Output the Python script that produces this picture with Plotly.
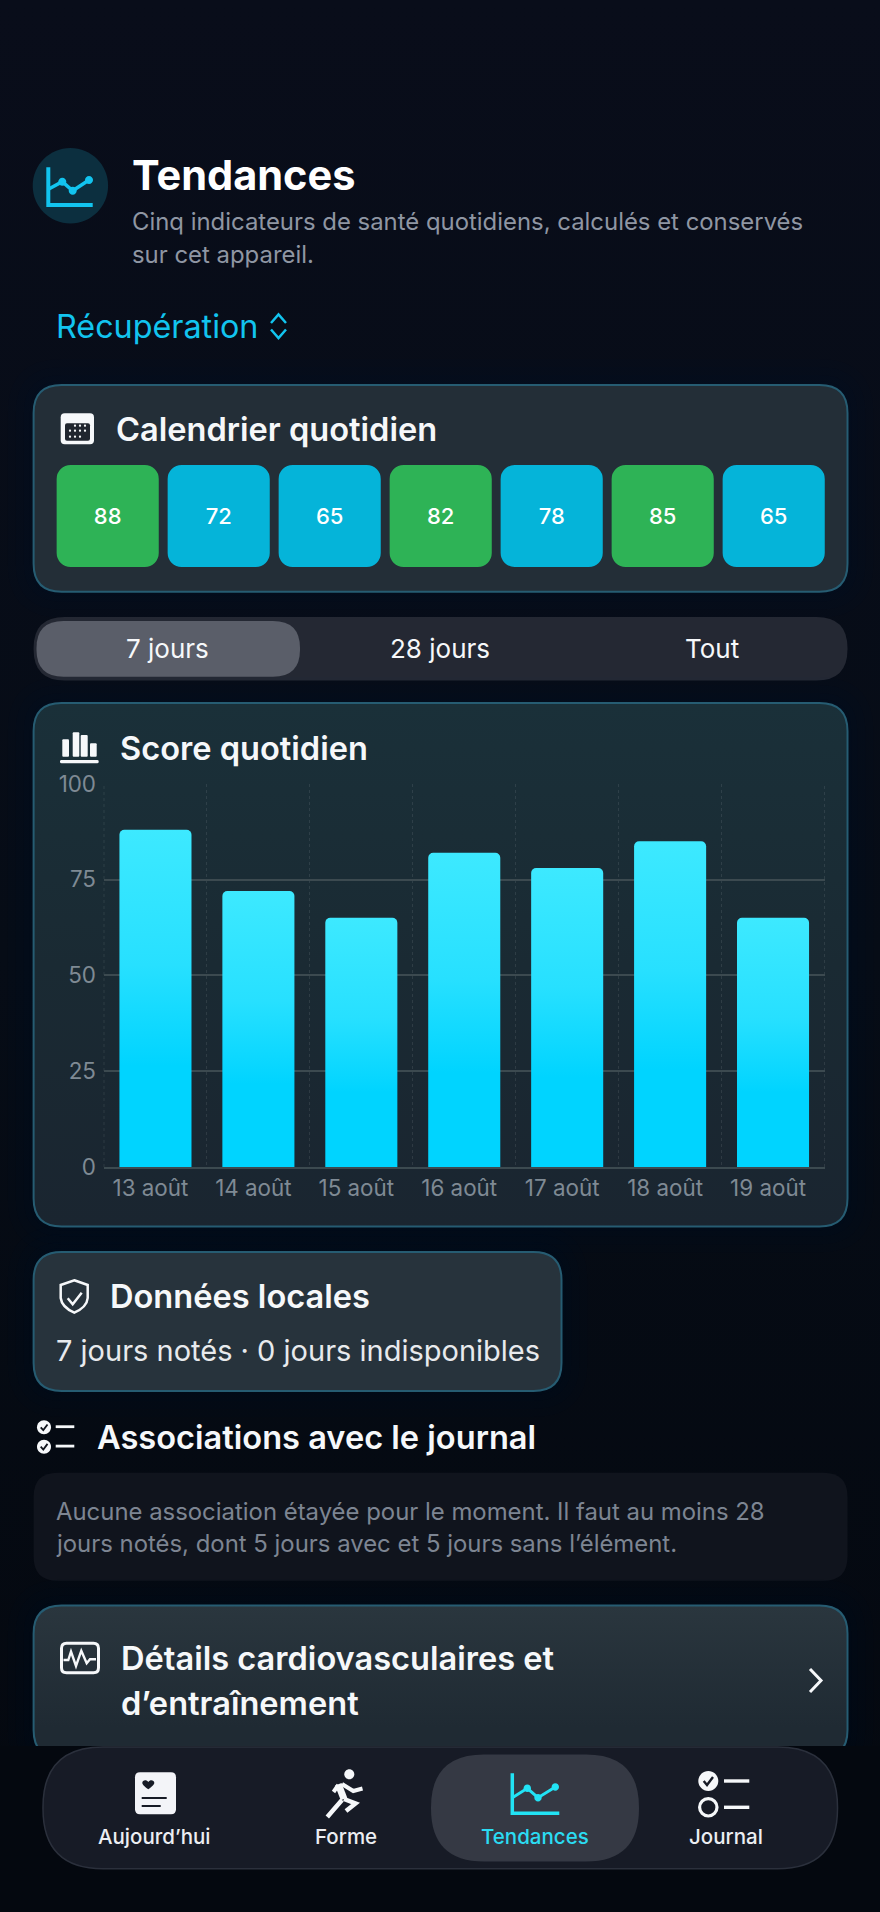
import re
import plotly.graph_objects as go

# chart data
dates = ["13 août", "14 août", "15 août", "16 août", "17 août", "18 août", "19 août"]
scores = [88, 72, 65, 82, 78, 85, 65]
y_ticks = [0, 25, 50, 75, 100]
periods = ["7 jours", "28 jours", "Tout"]
nav_labels = ["Aujourd’hui", "Forme", "Tendances", "Journal"]

W, H = 880, 1912
FONT = "Inter"
BG = "#070c17"
CYAN = "#12c4ef"
WHITE = "#f6f8fa"
CARD = "#232e37"
TITLE = 32.6


def fx(x):
    return x / W


def fy(y):
    return 1 - y / H


def to_path(d):
    """pixel path -> paper path, only absolute M L Q C Z"""
    out, is_x = [], True
    for tok in re.findall(r"[MLQCZ]|-?\d+\.?\d*", d):
        if tok.isalpha():
            out.append(tok)
            is_x = True
        else:
            out.append(f"{fx(float(tok)) if is_x else fy(float(tok)):.6f}")
            is_x = not is_x
    return " ".join(out)


def rr(x0, y0, x1, y1, r):
    return (f"M {x0+r} {y0} L {x1-r} {y0} Q {x1} {y0} {x1} {y0+r} L {x1} {y1-r} Q {x1} {y1} {x1-r} {y1} "
            f"L {x0+r} {y1} Q {x0} {y1} {x0} {y1-r} L {x0} {y0+r} Q {x0} {y0} {x0+r} {y0} Z")


def circ(cx, cy, r):
    k = r * 0.5523
    return (f"M {cx-r} {cy} C {cx-r} {cy-k} {cx-k} {cy-r} {cx} {cy-r} C {cx+k} {cy-r} {cx+r} {cy-k} {cx+r} {cy} "
            f"C {cx+r} {cy+k} {cx+k} {cy+r} {cx} {cy+r} C {cx-k} {cy+r} {cx-r} {cy+k} {cx-r} {cy} Z")


def poly(pts):
    return "M " + " L ".join(f"{x} {y}" for x, y in pts)


shapes = []
annotations = []


def fill(d, color, line=None, lw=0):
    shapes.append(dict(type="path", path=to_path(d), xref="paper", yref="paper", layer="below",
                       fillcolor=color, line=dict(color=line or "rgba(0,0,0,0)", width=lw)))


def stroke(d, color, lw):
    shapes.append(dict(type="path", path=to_path(d), xref="paper", yref="paper", layer="below",
                       fillcolor="rgba(0,0,0,0)", line=dict(color=color, width=lw)))


def text(x, y, s, size, color=WHITE, anchor="left", weight=400):
    annotations.append(dict(x=fx(x), y=fy(y), xref="paper", yref="paper", text=s, showarrow=False,
                            xanchor=anchor, yanchor="middle", borderpad=0,
                            font=dict(family=FONT, size=size, color=color, weight=weight)))


def glow(x0, y0, x1, y1, r):
    for g in (26, 18, 10, 4):
        fill(rr(x0 - g, y0 - g, x1 + g, y1 + g, r + g), "rgba(20,120,190,0.012)")


def card(x0, y0, x1, y1, r=28, color=CARD, border="#265c72"):
    glow(x0, y0, x1, y1, r)
    fill(rr(x0, y0, x1, y1, r), color, border, 2)
    return len(shapes) - 1


# page background, gradient is set at the end
fill(rr(0, 0, 880, 1912, 0), BG)
page_bg = len(shapes) - 1

# header
fill(circ(70.4, 185.7, 37.7), "#0c2f3f")
stroke(poly([(48.3, 167.3), (48.3, 205), (92.7, 205)]), CYAN, 4)
head_pts = [(48.3, 189.3), (62.3, 181.7), (72.7, 190.7), (89, 180)]
stroke(poly(head_pts), CYAN, 3.5)
for px_, py_ in head_pts[1:]:
    fill(circ(px_, py_, 4), CYAN)
text(131, 175, "Tendances", 41.5, "#ffffff", weight=700)
text(131, 221.7, "Cinq indicateurs de santé quotidiens, calculés et conservés", 23.9, "#8f96a3")
text(131, 254, "sur cet appareil.", 23.9, "#8f96a3")
text(55, 326.7, "Récupération", 32.3, CYAN)
stroke(poly([(271, 323), (278.5, 314.5), (286, 323)]), CYAN, 2.5)
stroke(poly([(271, 329.5), (278.5, 338), (286, 329.5)]), CYAN, 2.5)

# calendar card
card(33.6, 385, 847.5, 591.7)
fill(rr(60.7, 413.3, 94, 444.3, 4), WHITE)
fill(rr(65, 423.3, 90, 440.7, 2), "#20262f")
for dy, xs in ((425.7, (75, 80, 85)), (430.7, (70, 75, 80, 85)), (436.7, (70, 75, 80))):
    for dx in xs:
        fill(circ(dx, dy, 1.1), WHITE)
text(114.5, 429, "Calendrier quotidien", TITLE, WHITE, weight=600)

# period selector
fill(rr(33.6, 617, 847.5, 680.4, 31), "#242833")
fill(rr(36.5, 621, 300, 676.7, 27), "#5a5e69")
for cx, label in zip((167.5, 439.5, 711.6), periods):
    text(cx, 649, label, 26, WHITE, "center")

# score card
score_card = card(33.6, 703, 847.5, 1226.5, color="#1a2a33")
for x0, x1, top in ((62.3, 69, 739.3), (72.7, 79.3, 732.3), (80.7, 87.7, 735), (90, 96.7, 743.3)):
    fill(rr(x0, top, x1, 756.7, 1), WHITE)
fill(rr(60, 760, 98.7, 763.3, 1.5), WHITE)
text(119, 747.8, "Score quotidien", TITLE, WHITE, weight=600)

# local data card
local_card = card(33.6, 1252, 561.5, 1390.9, color="#27333c")
stroke("M 74.3 1280.3 L 87.7 1285 L 87.7 1298 Q 87 1307 74.3 1312.7 Q 61.7 1307 60.7 1298 L 60.7 1285 Z", WHITE, 2.5)
stroke(poly([(67.7, 1298.3), (72.7, 1304.3), (81.7, 1292.7)]), WHITE, 2.5)
text(109, 1295.7, "Données locales", TITLE, WHITE, weight=600)
text(55, 1350, "7 jours notés · 0 jours indisponibles", 29, "#e8eaed")

# associations
for cy in (1427.3, 1446.7):
    fill(circ(44, cy, 7), WHITE)
    stroke(poly([(40.7, cy), (43.3, cy + 2.8), (47.5, cy - 2.8)]), "#10141d", 1.8)
    stroke(poly([(55.7, cy - 0.6), (74.3, cy - 0.6)]), WHITE, 2.8)
text(95.5, 1437, "Associations avec le journal", TITLE, WHITE, weight=600)
fill(rr(33.6, 1472.7, 847.5, 1580.8, 24), "#10141d")
text(55, 1511, "Aucune association étayée pour le moment. Il faut au moins 28", 23.9, "#7d8592")
text(55, 1543.5, "jours notés, dont 5 jours avec et 5 jours sans l’élément.", 23.9, "#7d8592")

# details card, cut off at the top of the nav bar like a scroll view
details_card = card(33.6, 1605.6, 847.5, 1758, color="#27333c")
fill(rr(0, 1746, 880, 1912, 0), "#04080f")
stroke(rr(61.5, 1643.3, 98.5, 1672.7, 5), WHITE, 3)
wave = [(63.5, 1660), (68.3, 1660), (71, 1651.5), (76, 1666), (81.3, 1650.7), (86.7, 1663.3), (90, 1659.3), (96, 1659.3)]
stroke(poly(wave), WHITE, 2.4)
text(120, 1658, "Détails cardiovasculaires et", TITLE, WHITE, weight=600)
text(120, 1703, "d’entraînement", TITLE, WHITE, weight=600)
stroke(poly([(810, 1669), (821, 1680.5), (810, 1692)]), WHITE, 3)

# nav bar
fill(rr(43, 1747, 837.5, 1868.8, 60), "#171b26", "#2b303c", 1.5)
fill(rr(431, 1754.4, 639, 1861.5, 53), "#353944")
for cx, label in zip((154.3, 345.5, 534.5, 725.5), nav_labels):
    on = label == "Tendances"
    text(cx, 1836.7, label, 20.5, "#2bdcf2" if on else "#eceef2", "center", 500)

# nav: today
fill(rr(135, 1772.3, 176, 1814.3, 5), "#f3f4f8")
fill("M 148.3 1789.3 C 144 1786 142.3 1784.5 142.3 1782.7 C 142.3 1780 146.5 1779 148.3 1782 "
     "C 150 1779 154.3 1780 154.3 1782.7 C 154.3 1784.5 152.5 1786 148.3 1789.3 Z", "#171b26")
stroke(poly([(141.7, 1798), (166.7, 1798)]), "#171b26", 2)
stroke(poly([(141.7, 1806), (160.7, 1806)]), "#171b26", 2)

# nav: runner
fill(circ(349.3, 1774.3, 5), WHITE)
stroke(poly([(338.3, 1784.3), (344, 1799)]), WHITE, 7)
stroke(poly([(338.3, 1785), (333.5, 1792)]), WHITE, 4)
stroke(poly([(342, 1784), (353.3, 1791), (362.5, 1788.5)]), WHITE, 4)
stroke(poly([(342, 1800), (333.3, 1810), (327.3, 1817)]), WHITE, 4.5)
stroke(poly([(344, 1799), (355.5, 1803.5), (346, 1811)]), WHITE, 4.5)

# nav: trends
TEAL = "#22e3f5"
stroke(poly([(512.3, 1773.3), (512.3, 1813.3), (559.3, 1813.3)]), TEAL, 3.5)
nav_pts = [(512.3, 1797.7), (527.3, 1788.3), (538, 1797.7), (555.3, 1787)]
stroke(poly(nav_pts), TEAL, 3)
for px_, py_ in nav_pts[1:]:
    fill(circ(px_, py_, 3.7), TEAL)

# nav: journal
fill(circ(708.3, 1781, 10), WHITE)
stroke(poly([(703.7, 1781), (707, 1785), (713, 1777)]), "#171b26", 2.4)
stroke(circ(708.3, 1807.3, 8.7), WHITE, 3.2)
stroke(poly([(724, 1781), (749.3, 1781)]), WHITE, 3.4)
stroke(poly([(724, 1807.3), (749.3, 1807.3)]), WHITE, 3.4)

# plotly drops the boundary gridlines at both ends of the axis, put them back
for x_end in (0, 1):
    shapes.append(dict(type="line", xref="x domain", yref="y domain", x0=x_end, x1=x_end, y0=0, y1=1,
                       layer="below", line=dict(color="rgba(255,255,255,0.09)", width=1, dash="dot")))

fig = go.Figure()

# score bars
fig.add_trace(go.Bar(x=dates, y=scores, marker=dict(color="#00d4ff", line_width=0, cornerradius=5),
                     hoverinfo="skip", showlegend=False))

# calendar tiles: one bar up and one down so all four corners get rounded
tile_colors = ["#2eb356" if s >= 80 else "#05b4d9" for s in scores]
for sign in (1, -1):
    fig.add_trace(go.Bar(x=dates, y=[sign] * len(dates), width=[0.92] * len(dates), xaxis="x2", yaxis="y2",
                         marker=dict(color=tile_colors, line_width=0, cornerradius=14),
                         hoverinfo="skip", showlegend=False))
fig.add_trace(go.Scatter(x=dates, y=[-0.04] * len(dates), xaxis="x2", yaxis="y2", mode="text", text=scores,
                         textposition="middle center",
                         textfont=dict(family=FONT, size=22, color="#ffffff", weight=500),
                         hoverinfo="skip", showlegend=False))

fig.update_layout(
    width=W, height=H, margin=dict(l=0, r=0, t=0, b=0, autoexpand=False), autosize=False,
    paper_bgcolor=BG, plot_bgcolor="rgba(0,0,0,0)", barmode="overlay", bargap=0.3,
    shapes=shapes, annotations=annotations,
    font=dict(family=FONT),
    xaxis=dict(domain=[fx(104), fx(824.5)], anchor="y", type="category", tickson="boundaries", categoryorder="array",
               categoryarray=dates, showgrid=True, griddash="dot", gridcolor="rgba(255,255,255,0.09)", gridwidth=1,
               showline=True, linecolor="#3c4a50", linewidth=1.5, ticks="", ticklabelstandoff=0, ticklabelshift=-5,
               tickfont=dict(family=FONT, size=22.4, color="#7f8a94"), zeroline=False, automargin=False),
    yaxis=dict(domain=[fy(1167), fy(783.7)], anchor="x", range=[0, 100], tickvals=y_ticks, showgrid=True,
               gridcolor="#3c4a50", gridwidth=1.5, griddash="solid", zeroline=False, showline=False, ticks="",
               ticklabelstandoff=7, tickfont=dict(family=FONT, size=22.4, color="#7f8a94"), automargin=False),
    xaxis2=dict(domain=[fx(52.2), fx(829.2)], anchor="y2", type="category", categoryorder="array", categoryarray=dates,
                visible=False, automargin=False),
    yaxis2=dict(domain=[fy(567), fy(465)], anchor="x2", range=[-1, 1], visible=False, automargin=False),
)

# bars and the score card get a vertical gradient, shapes/bars have no such option
post_script = """
document.body.style.margin = '0';
document.body.style.background = '%s';
var gd = document.getElementById('{plot_id}');
var svg = gd.querySelector('.main-svg');
var NS = 'http://www.w3.org/2000/svg';
var defs = document.createElementNS(NS, 'defs');
function grad(id, stops) {
  var g = document.createElementNS(NS, 'linearGradient');
  g.setAttribute('id', id);
  g.setAttribute('x1', '0'); g.setAttribute('y1', '0');
  g.setAttribute('x2', '0'); g.setAttribute('y2', '1');
  stops.forEach(function (s) {
    var st = document.createElementNS(NS, 'stop');
    st.setAttribute('offset', s[0]);
    st.setAttribute('stop-color', s[1]);
    g.appendChild(st);
  });
  defs.appendChild(g);
}
grad('barGrad', [[0, '#3de9ff'], [0.4, '#27e0ff'], [0.7, '#00d4ff'], [1, '#00d4ff']]);
grad('scoreCard', [[0, '#1a3039'], [0.5, '#1a2a33'], [1, '#1a2530']]);
grad('detailCard', [[0, '#2a363e'], [0.8, '#1f2a33'], [1, '#1f2a33']]);
grad('pageBg', [[0, '#090d1a'], [0.5, '#060c16'], [1, '#04080f']]);
svg.insertBefore(defs, svg.firstChild);
gd.querySelectorAll('.subplot.xy .barlayer .point path').forEach(function (p) {
  p.style.fill = 'url(#barGrad)';
});
function cardFill(i, id) {
  var p = gd.querySelector('.shapelayer path[data-index="' + i + '"]');
  if (p) p.style.fill = 'url(#' + id + ')';
}
cardFill(%d, 'pageBg');
cardFill(%d, 'scoreCard');
cardFill(%d, 'detailCard');
""" % (BG, page_bg, score_card, details_card)

fig.write_html("out.html", post_script=post_script, config={"displayModeBar": False})
